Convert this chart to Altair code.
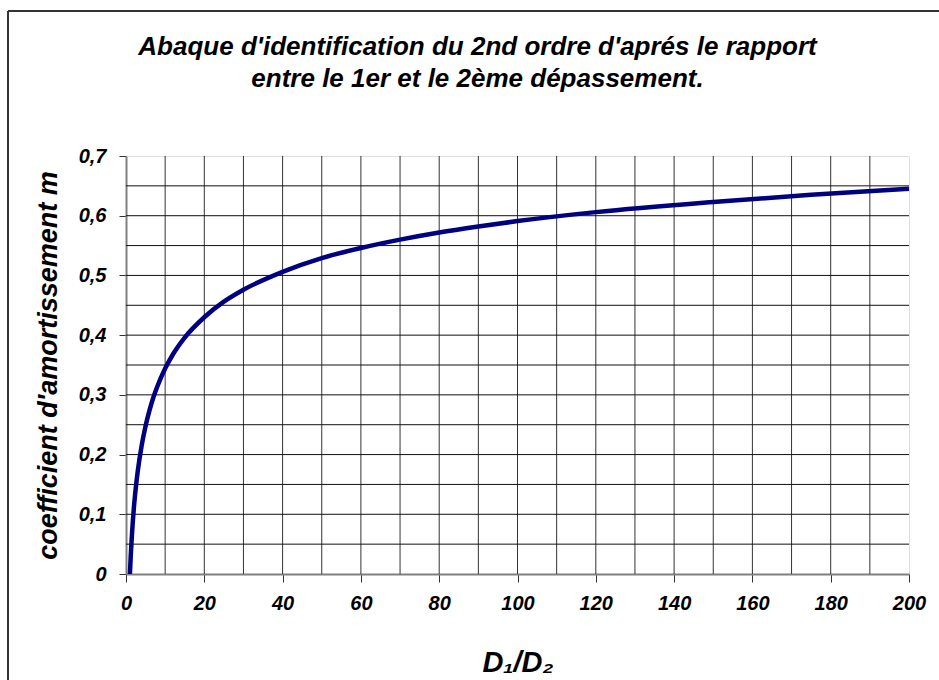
import altair as alt
import pandas as pd

# D1/D2 ratio and damping coefficient m
ratio = [1, 1.2, 1.5, 2, 2.5, 3, 4, 5, 6, 7, 8, 10, 12, 15, 20, 25, 30, 40, 50,
         60, 70, 80, 90, 100, 120, 150, 175, 200]
damping = [0.0, 0.029, 0.064, 0.110, 0.144, 0.172, 0.215, 0.248, 0.274, 0.296,
           0.314, 0.344, 0.368, 0.396, 0.430, 0.456, 0.476, 0.506, 0.529,
           0.546, 0.560, 0.572, 0.582, 0.591, 0.606, 0.623, 0.635, 0.645]

x_ticks = [0, 20, 40, 60, 80, 100, 120, 140, 160, 180, 200]
x_grid = [10, 20, 30, 40, 50, 60, 70, 80, 90, 100, 110, 120, 130, 140, 150,
          160, 170, 180, 190]
y_ticks = [0, 0.1, 0.2, 0.3, 0.4, 0.5, 0.6, 0.7]
y_grid = [0.05, 0.1, 0.15, 0.2, 0.25, 0.3, 0.35, 0.4, 0.45, 0.5, 0.55, 0.6, 0.65]

title_lines = ["Abaque d'identification du 2nd ordre d'aprés le rapport",
               "entre le 1er et le 2ème dépassement."]
x_title = "D₁/D₂"
y_title = "coefficient d'amortissement m"

W, H = 783, 418
FONT = "Liberation Sans"

xs = alt.Scale(domain=[0, 200], nice=False, zero=False)
ys = alt.Scale(domain=[0, 0.7], nice=False)

x_axis = alt.Axis(
    values=x_ticks, grid=False, title=x_title,
    labelFont=FONT, labelFontSize=20, labelFontStyle="italic",
    labelFontWeight="bold", labelColor="black", labelPadding=11,
    tickSize=8, tickColor="#333333", domainColor="#808080", domainWidth=2,
    labelFlush=False, labelOverlap=False,
    titleFont=FONT, titleFontSize=29, titleFontStyle="italic",
    titleFontWeight="bold", titleColor="black",
    titleBaseline="alphabetic", titleY=97,
)
y_axis = alt.Axis(
    values=y_ticks, grid=False, title=y_title,
    labelExpr="datum.value == 0 ? '0' : replace(format(datum.value, '.1f'), '.', ',')",
    labelFont=FONT, labelFontSize=20, labelFontStyle="italic",
    labelFontWeight="bold", labelColor="black", labelPadding=13,
    tickSize=7, tickColor="#333333", domainColor="#808080", domainWidth=2,
    labelFlush=False, labelOverlap=False,
    titleFont=FONT, titleFontSize=27, titleFontStyle="italic",
    titleFontWeight="bold", titleColor="black",
    titleAngle=-90, titleBaseline="middle", titleAlign="center",
    titleX=-78, titleY=H / 2,
)

vgrid = alt.Chart(pd.DataFrame({"g": x_grid})).mark_rule(
    color="#333333", strokeWidth=1
).encode(
    x=alt.X("g:Q", scale=xs, axis=x_axis),
    y=alt.value(0), y2=alt.value(H),
)

hgrid = alt.Chart(pd.DataFrame({"g": y_grid})).mark_rule(
    color="#111111", strokeWidth=1
).encode(
    y=alt.Y("g:Q", scale=ys, axis=y_axis),
    x=alt.value(0), x2=alt.value(W),
)

curve = alt.Chart(pd.DataFrame({"ratio": ratio, "m": damping})).mark_line(
    color="#000080", strokeWidth=4.5, interpolate="monotone"
).encode(
    x=alt.X("ratio:Q", scale=xs, axis=x_axis),
    y=alt.Y("m:Q", scale=ys, axis=y_axis),
)

frame_top = alt.Chart(pd.DataFrame({"a": [0]})).mark_rule(
    color="#333333", strokeWidth=2
).encode(x=alt.value(-118), x2=alt.value(830), y=alt.value(-145))

frame_left = alt.Chart(pd.DataFrame({"a": [0]})).mark_rule(
    color="#333333", strokeWidth=2
).encode(x=alt.value(-118), y=alt.value(-145), y2=alt.value(530))

chart = alt.layer(vgrid, hgrid, curve, frame_top, frame_left).properties(
    width=W, height=H,
    autosize="none",
    padding={"left": 126, "top": 156, "right": 30, "bottom": 106},
    title=alt.TitleParams(
        title_lines, font=FONT, fontSize=26, fontStyle="italic",
        fontWeight="bold", color="black", anchor="middle", dx=-40,
        lineHeight=32, offset=-82,
    ),
).configure_view(
    stroke="#808080", strokeWidth=2
).configure(background="white")

chart.save("out.html", embed_options={"renderer": "svg", "actions": False})
